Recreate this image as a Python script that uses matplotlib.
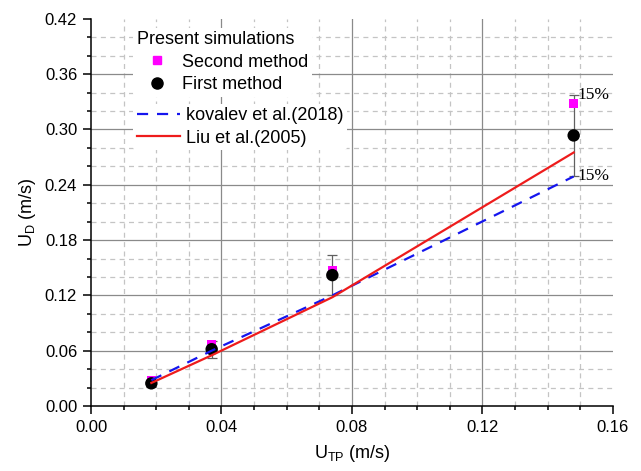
import matplotlib
matplotlib.use("Agg")
import matplotlib.pyplot as plt
from matplotlib.lines import Line2D
import numpy as np

plt.rcParams['font.family'] = ['Liberation Sans', 'DejaVu Sans']
plt.rcParams['mathtext.fontset'] = 'custom'
plt.rcParams['mathtext.rm'] = 'Liberation Sans'
plt.rcParams['mathtext.it'] = 'Liberation Sans:italic'

# ---- data ----
u_tp = [0.0185, 0.037, 0.074, 0.148]
first_method = [0.0246, 0.0616, 0.142, 0.2935]
second_method = [0.0275, 0.067, 0.1466, 0.328]
err_pct = 0.15

kovalev_x = [0.0185, 0.037, 0.074, 0.148]
kovalev_y = [0.028, 0.060, 0.120, 0.249]
liu_x = [0.0185, 0.037, 0.074, 0.148]
liu_y = [0.025, 0.055, 0.118, 0.275]

x_major = [0.00, 0.04, 0.08, 0.12, 0.16]
y_major = [0.00, 0.06, 0.12, 0.18, 0.24, 0.30, 0.36, 0.42]

fig = plt.figure(figsize=(6.41, 4.71), dpi=100)
ax = fig.add_axes([0.142, 0.138, 0.814, 0.822])

ax.set_xlim(0, 0.16)
ax.set_ylim(0, 0.42)

# grid (interior lines only, no line at the outer limits)
xminor = np.arange(0.01, 0.1551, 0.01)
yminor = np.arange(0.02, 0.4051, 0.02)
for v in xminor:
    if abs(v / 0.04 - round(v / 0.04)) > 1e-6:
        ax.axvline(v, color='#c4c4c4', lw=0.9, ls=(0, (4, 3.5)), zorder=0)
for v in yminor:
    if abs(v / 0.06 - round(v / 0.06)) > 1e-6:
        ax.axhline(v, color='#c4c4c4', lw=0.9, ls=(0, (4, 3.5)), zorder=0)
for v in x_major[1:-1]:
    ax.axvline(v, color='#8a8a8a', lw=0.9, zorder=0.5)
for v in y_major[1:-1]:
    ax.axhline(v, color='#8a8a8a', lw=0.9, zorder=0.5)

# error bars on first method
yerr = [err_pct * v for v in first_method]
ax.errorbar(u_tp, first_method, yerr=yerr, fmt='none', ecolor='#606060',
            elinewidth=0.9, capsize=3.5, capthick=0.9, zorder=2)

sq = ax.scatter(u_tp, second_method, marker='s', s=42, color='#ff00ff',
                edgecolors='none', zorder=3, label='Second method')
ci = ax.scatter(u_tp, first_method, marker='o', s=80, color='black',
                edgecolors='none', zorder=4, label='First method')

kv, = ax.plot(kovalev_x, kovalev_y, color='#1515ee', lw=1.6,
              ls=(0, (5, 4)), zorder=5, label='kovalev et al.(2018)')
li, = ax.plot(liu_x, liu_y, color='#ee1c1c', lw=1.6, zorder=5,
              label='Liu et al.(2005)')

# 15% annotations
top_y = first_method[-1] * (1 + err_pct)
bot_y = first_method[-1] * (1 - err_pct)
for yy in (top_y, bot_y):
    ax.annotate('15%', xy=(u_tp[-1], yy), xytext=(3, 0), textcoords='offset points',
                va='center', ha='left', fontsize=12.5,
                family=['Liberation Serif', 'DejaVu Serif'])

# spines & ticks
for s in ('top', 'right'):
    ax.spines[s].set_visible(False)
for s in ('left', 'bottom'):
    ax.spines[s].set_linewidth(1.1)

ax.set_xticks(x_major)
ax.set_xticklabels([f'{v:.2f}' for v in x_major])
ax.set_yticks(y_major)
ax.set_yticklabels([f'{v:.2f}' for v in y_major])
ax.set_xticks(np.arange(0, 0.1601, 0.01), minor=True)
ax.set_yticks(np.arange(0, 0.4201, 0.02), minor=True)
ax.tick_params(which='major', direction='out', length=6, width=1.1,
               labelsize=12, pad=4)
ax.tick_params(which='minor', direction='out', length=3, width=1.1)

ax.set_xlabel(r'U$_{\mathrm{TP}}$ (m/s)', fontsize=13, labelpad=6)
ax.set_ylabel(r'U$_{\mathrm{D}}$ (m/s)', fontsize=13, labelpad=5)

# legends
h_sq = Line2D([], [], marker='s', ls='none', color='#ff00ff', markersize=6)
h_ci = Line2D([], [], marker='o', ls='none', color='black', markersize=8)
leg1 = ax.legend([h_sq, h_ci], ['Second method', 'First method'],
                 title='Present simulations', title_fontsize=13, fontsize=13,
                 loc='upper left', bbox_to_anchor=(0.081, 0.977),
                 alignment='left', frameon=True, facecolor='white',
                 edgecolor='none', framealpha=1, handlelength=2.2,
                 handletextpad=0.3, labelspacing=0.3, borderpad=0.2,
                 borderaxespad=0)
ax.add_artist(leg1)
leg2 = ax.legend([kv, li], ['kovalev et al.(2018)', 'Liu et al.(2005)'],
                 fontsize=13, loc='upper left', bbox_to_anchor=(0.081, 0.781),
                 frameon=True, facecolor='white', edgecolor='none',
                 framealpha=1, handlelength=2.4, handletextpad=0.3,
                 labelspacing=0.3, borderpad=0.2, borderaxespad=0)
leg1.set_zorder(10)
leg2.set_zorder(10)

fig.savefig('out.png', dpi=100)
